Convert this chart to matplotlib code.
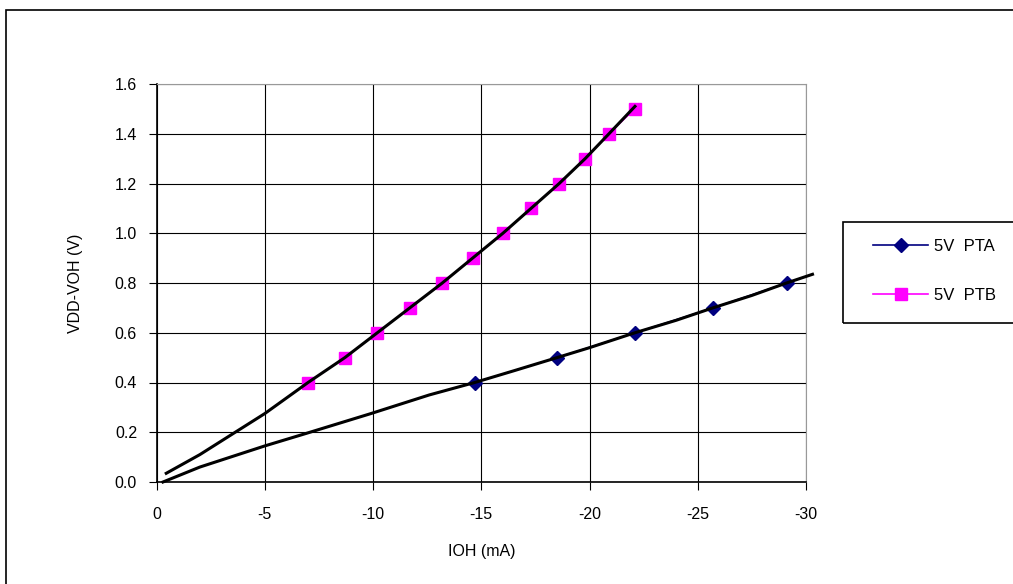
import matplotlib
matplotlib.use("Agg")
import matplotlib.pyplot as plt
from matplotlib.patches import Rectangle
from matplotlib.lines import Line2D

plt.rcParams['font.family'] = ['Liberation Sans', 'DejaVu Sans']

# marker points
pta_x = [-14.7, -18.5, -22.1, -25.7, -29.1]
pta_y = [0.4, 0.5, 0.6, 0.7, 0.8]
ptb_x = [-7.0, -8.7, -10.2, -11.7, -13.2, -14.6, -16.0, -17.3, -18.6, -19.8, -20.9, -22.1]
ptb_y = [0.4, 0.5, 0.6, 0.7, 0.8, 0.9, 1.0, 1.1, 1.2, 1.3, 1.4, 1.5]

# black measured curves
curve_a_x = [-0.3, -2.0, -5.0, -6.9, -9.9, -12.6, -14.7, -16.5, -18.5, -20.0, -22.1, -24.0, -25.7, -27.5, -29.1, -30.3]
curve_a_y = [0.0, 0.06, 0.145, 0.195, 0.275, 0.35, 0.40, 0.447, 0.50, 0.54, 0.60, 0.65, 0.70, 0.75, 0.80, 0.835]
curve_b_x = [-0.45, -2.0, -5.0, -7.0, -8.7, -10.2, -11.7, -13.2, -14.6, -16.0, -17.3, -18.6, -19.8, -20.9, -22.1]
curve_b_y = [0.035, 0.11, 0.275, 0.40, 0.50, 0.60, 0.70, 0.80, 0.90, 1.00, 1.10, 1.20, 1.30, 1.40, 1.51]

x_ticks = [0, -5, -10, -15, -20, -25, -30]
y_ticks = [0.0, 0.2, 0.4, 0.6, 0.8, 1.0, 1.2, 1.4, 1.6]

W, H = 1013, 584
fig = plt.figure(figsize=(W / 100, H / 100), dpi=100)
ax = fig.add_axes([156.5 / W, 1 - 482 / H, (806 - 156.5) / W, (482 - 84) / H])

ax.plot(pta_x, pta_y, color='#000080', lw=1.0, marker='D', ms=7.5, zorder=3)
ax.plot(ptb_x, ptb_y, color='#ff00ff', lw=1.0, marker='s', ms=8, zorder=3)
ax.plot(curve_a_x, curve_a_y, color='black', lw=2.2, zorder=4, clip_on=False)
ax.plot(curve_b_x, curve_b_y, color='black', lw=2.2, zorder=4)

ax.set_xlim(0, -30)
ax.set_ylim(0, 1.6)
ax.set_xticks(x_ticks)
ax.set_xticklabels([str(t) for t in x_ticks])
ax.set_yticks(y_ticks)
ax.set_yticklabels(['%.1f' % t for t in y_ticks])
ax.grid(True, color='black', lw=0.8)
ax.set_axisbelow(True)
ax.tick_params(direction='out', length=6, width=0.8, labelsize=11.5)
ax.tick_params(axis='y', pad=8)
ax.tick_params(axis='x', pad=12)
for s in ['top', 'right']:
    ax.spines[s].set_color('#999999')
for s in ['left', 'bottom']:
    ax.spines[s].set_color('black')
    ax.spines[s].set_linewidth(1.2)

ax.set_xlabel('IOH (mA)', fontsize=11.5, labelpad=16)
ax.set_ylabel('VDD-VOH (V)', fontsize=11.5, labelpad=23)

# outer chart border
fig.patches.append(Rectangle((6 / W, -0.1), 1.2, 1 - 10 / H + 0.1, transform=fig.transFigure,
                             fill=False, ec='black', lw=1.2))
# legend box
fig.patches.append(Rectangle((843 / W, 1 - 323 / H), 0.3, 101 / H, transform=fig.transFigure,
                             fill=False, ec='black', lw=1.2))
handles = [Line2D([], [], color='#000080', lw=1.2, marker='D', ms=7.5),
           Line2D([], [], color='#ff00ff', lw=1.2, marker='s', ms=8.5)]
fig.legend(handles, ['5V  PTA', '5V  PTB'], loc='center left', frameon=False,
           bbox_to_anchor=(858 / W, 1 - 271 / H), fontsize=12, handlelength=3.3,
           handletextpad=0.35, labelspacing=2.0)

fig.savefig('out.png', dpi=100)
